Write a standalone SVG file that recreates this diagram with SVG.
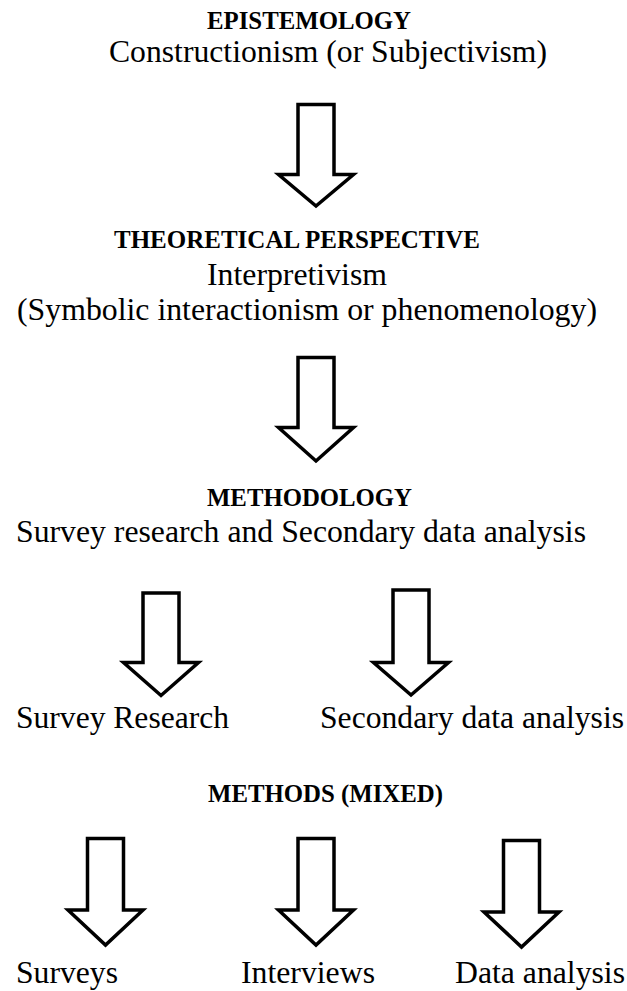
<svg xmlns="http://www.w3.org/2000/svg" width="627" height="991" viewBox="0 0 627 991">
<style>
text{font-family:'Liberation Serif','Times New Roman',Times,'DejaVu Serif','Noto Serif',serif;fill:#000}
.h{font-weight:bold;font-size:24.8px}
.t{font-weight:normal;font-size:31.7px}
.arr{fill:#fff;stroke:#000;stroke-width:3.5;stroke-linejoin:miter;stroke-miterlimit:10}
</style>
<rect width="627" height="991" fill="#fff"/>
<g id="epistemology">
<text class="h" x="207" y="29" textLength="204" lengthAdjust="spacingAndGlyphs">EPISTEMOLOGY</text>
<text class="t" x="109" y="62" textLength="438" lengthAdjust="spacingAndGlyphs">Constructionism (or Subjectivism)</text>
</g>
<g id="theoretical-perspective">
<text class="h" x="114" y="248" textLength="366" lengthAdjust="spacingAndGlyphs">THEORETICAL PERSPECTIVE</text>
<text class="t" x="207" y="285" textLength="180" lengthAdjust="spacingAndGlyphs">Interpretivism</text>
<text class="t" x="17" y="320" textLength="580" lengthAdjust="spacingAndGlyphs">(Symbolic interactionism or phenomenology)</text>
</g>
<g id="methodology">
<text class="h" x="207" y="506" textLength="205" lengthAdjust="spacingAndGlyphs">METHODOLOGY</text>
<text class="t" x="16" y="542" textLength="570" lengthAdjust="spacingAndGlyphs">Survey research and Secondary data analysis</text>
</g>
<g id="survey-research">
<text class="t" x="16" y="728" textLength="213" lengthAdjust="spacingAndGlyphs">Survey Research</text>
</g>
<g id="secondary-data-analysis">
<text class="t" x="320" y="728" textLength="304" lengthAdjust="spacingAndGlyphs">Secondary data analysis</text>
</g>
<g id="methods">
<text class="h" x="208" y="802" textLength="235" lengthAdjust="spacingAndGlyphs">METHODS (MIXED)</text>
</g>
<g id="surveys">
<text class="t" x="16" y="983" textLength="102" lengthAdjust="spacingAndGlyphs">Surveys</text>
</g>
<g id="interviews">
<text class="t" x="241" y="983" textLength="134" lengthAdjust="spacingAndGlyphs">Interviews</text>
</g>
<g id="data-analysis">
<text class="t" x="455" y="983" textLength="170" lengthAdjust="spacingAndGlyphs">Data analysis</text>
</g>
<g id="connectors">
<path class="arr" d="M298 104.5H334V174.5H353.5L316 206L278.5 174.5H298Z"/>
<path class="arr" d="M298 357.5H334V427.5H353.5L316 461L278.5 427.5H298Z"/>
<path class="arr" d="M143 593H179V662.5H198.5L161 695.5L123.5 662.5H143Z"/>
<path class="arr" d="M393 590H429V662.5H448.5L411 695L373.5 662.5H393Z"/>
<path class="arr" d="M87.5 838.5H123.5V910H143L105.5 945L68 910H87.5Z"/>
<path class="arr" d="M298 838.5H334V910H353.5L316 945L278.5 910H298Z"/>
<path class="arr" d="M503.5 840.5H539.5V912H559L521.5 947L484 912H503.5Z"/>
</g>
</svg>
